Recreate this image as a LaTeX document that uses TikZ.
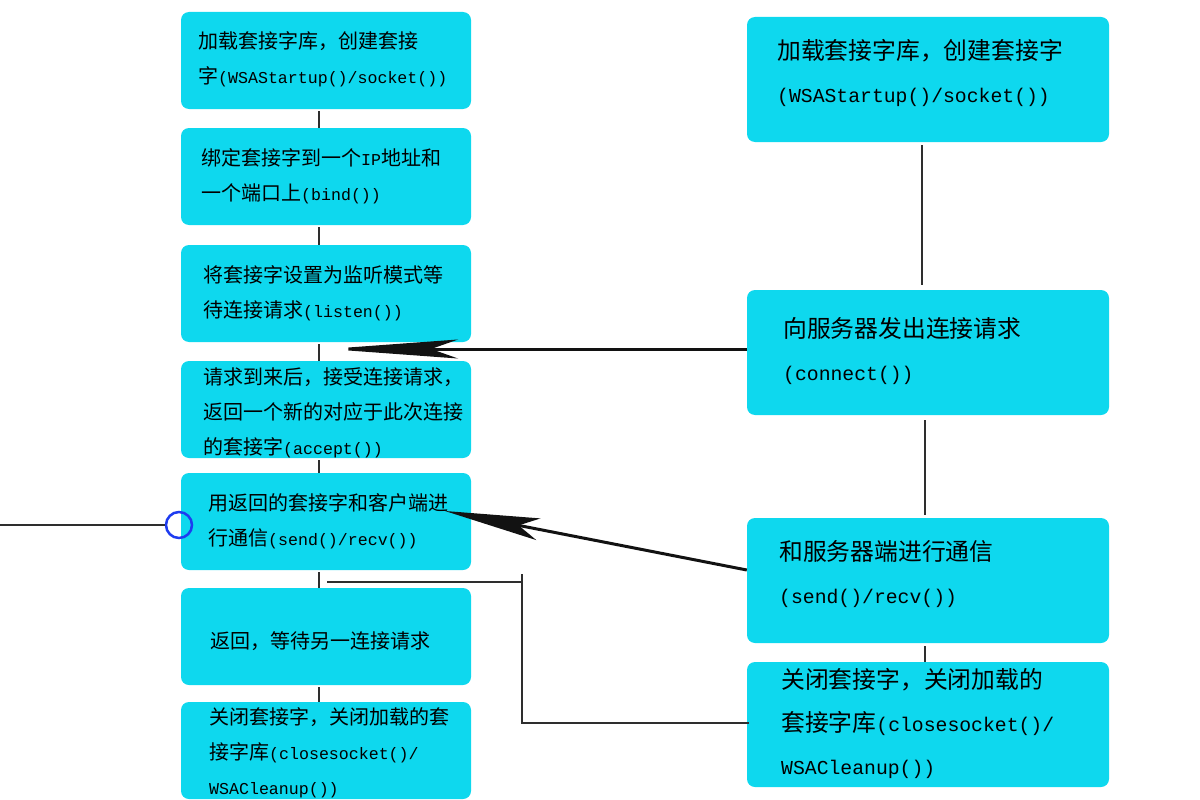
\documentclass[tikz,border=0pt]{standalone}
\usepackage{fontspec}
\setmainfont{Noto Sans CJK SC}
\newfontfamily\mono[Scale=0.83]{Liberation Mono}
\usetikzlibrary{arrows.meta}
\definecolor{boxcyan}{HTML}{0ED8EE}
\definecolor{ringblue}{HTML}{1E3CF0}
\definecolor{linegray}{HTML}{2E2E2E}
\newcommand{\lt}[1]{{\mono #1}}
\tikzset{
  box/.style={fill=boxcyan, rounded corners=8pt, inner sep=0pt},
  lbox/.style={box, minimum width=290pt, minimum height=97pt},
  rbox/.style={box, minimum width=362pt, minimum height=125pt},
  ltext/.style={anchor=west, align=left, inner sep=0pt, font=\fontsize{20}{35}\selectfont},
  rtext/.style={anchor=west, align=left, inner sep=0pt, font=\fontsize{23.8}{43}\selectfont},
  tick/.style={draw=linegray, line width=2.4pt},
  arr/.style={draw=black!93, line width=3pt},
}
\begin{document}
\begin{tikzpicture}[x=1pt,y=-1pt]
\useasboundingbox (0,0) rectangle (1200,800);
% left boxes
\node[lbox] (L1) at (326,60.5) {};
\node[lbox] (L2) at (326,176.5) {};
\node[lbox] (L3) at (326,293.5) {};
\node[lbox] (L4) at (326,409.5) {};
\node[lbox] (L5) at (326,521.5) {};
\node[lbox] (L6) at (326,636.5) {};
\node[lbox] (L7) at (326,750.5) {};
% right boxes
\node[rbox] (R1) at (928,79.5) {};
\node[rbox] (R2) at (928,352.5) {};
\node[rbox] (R3) at (928,580.5) {};
\node[rbox] (R4) at (928,724.5) {};
% left texts
\node[ltext] (L1t) at (198,59.5) {加载套接字库，创建套接\\字\lt{(WSAStartup()/socket())}};
\node[ltext] (L2t) at (201,176.5) {绑定套接字到一个\lt{IP}地址和\\一个端口上\lt{(bind())}};
\node[ltext] (L3t) at (203,293.5) {将套接字设置为监听模式等\\待连接请求\lt{(listen())}};
\node[ltext] (L4t) at (203,412.5) {请求到来后，接受连接请求，\\返回一个新的对应于此次连接\\的套接字\lt{(accept())}};
\node[ltext] (L5t) at (208,521) {用返回的套接字和客户端进\\行通信\lt{(send()/recv())}};
\node[ltext] (L6t) at (210,641) {返回，等待另一连接请求};
\node[ltext] (L7t) at (209,753) {关闭套接字，关闭加载的套\\接字库\lt{(closesocket()/}\\\lt{WSACleanup())}};
% right texts
\node[rtext] (R1t) at (777,72.5) {加载套接字库，创建套接字\\\lt{(WSAStartup()/socket())}};
\node[rtext] (R2t) at (783,351.5) {向服务器发出连接请求\\\lt{(connect())}};
\node[rtext] (R3t) at (779,574.5) {和服务器端进行通信\\\lt{(send()/recv())}};
\node[rtext] (R4t) at (781,723) {关闭套接字，关闭加载的\\套接字库\lt{(closesocket()/}\\\lt{WSACleanup())}};
% left column ticks
\draw[tick] ([xshift=-7pt,yshift=-2pt]L1.south) -- ([xshift=-7pt]L2.north);
\draw[tick] ([xshift=-7pt,yshift=-2pt]L2.south) -- ([xshift=-7pt]L3.north);
\draw[tick] ([xshift=-7pt,yshift=-2pt]L3.south) -- ([xshift=-7pt]L4.north);
\draw[tick] ([xshift=-7pt,yshift=-2pt]L4.south) -- ([xshift=-7pt]L5.north);
\draw[tick] ([xshift=-7pt,yshift=-2pt]L5.south) -- ([xshift=-7pt]L6.north);
\draw[tick] ([xshift=-7pt,yshift=-2pt]L6.south) -- ([xshift=-7pt]L7.north);
% right column connectors
\draw[tick] ([xshift=-6pt,yshift=-3pt]R1.south) -- ([xshift=-6pt,yshift=5pt]R2.north);
\draw[tick] ([xshift=-3pt,yshift=-5pt]R2.south) -- ([xshift=-3pt,yshift=3pt]R3.north);
\draw[tick] ([xshift=-3pt,yshift=-3pt]R3.south) -- ([xshift=-3pt]R4.north);
% arrows
\coordinate (a1) at (328,349);
\coordinate (a2) at (445,511);
\draw[arr, -{Stealth[length=130pt,width=19pt,inset=27pt]}] ([yshift=3.5pt]R2.west) -- (a1);
\draw[arr, -{Stealth[length=95pt,width=22pt,inset=20pt]}] ([yshift=10.5pt]R3.west) -- (a2);
% bottom return connector
\coordinate (b1) at (327,582);
\coordinate (b2) at (522,582);
\coordinate (b3) at (522,574);
\draw[tick] (b1) -- (b2);
\draw[tick] (b3) |- ([xshift=2pt,yshift=1.5pt]R4.west);
% left stub with ring
\coordinate (c0) at (0,525);
\node[circle, draw=ringblue, line width=2.5pt, minimum size=26pt, inner sep=0pt] (ring) at (179,525) {};
\draw[tick] (c0) -- (ring.west);
\end{tikzpicture}
\end{document}
